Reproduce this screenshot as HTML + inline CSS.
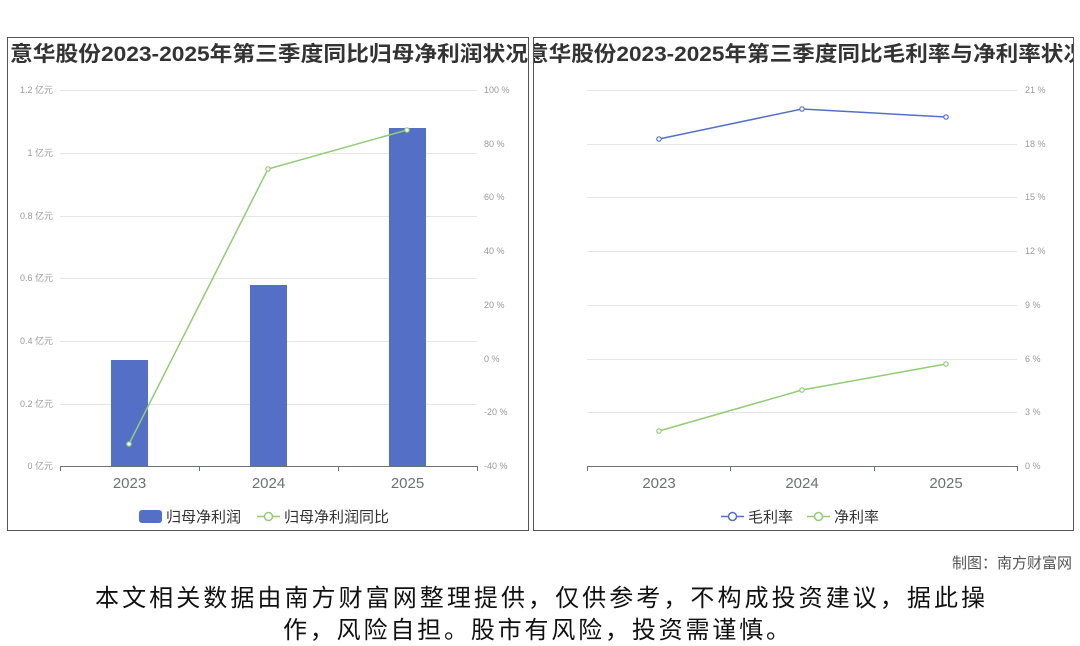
<!DOCTYPE html>
<html><head><meta charset="utf-8"><style>
html,body{margin:0;padding:0;background:#fff;}
svg{display:block;font-family:"Liberation Sans","Noto Sans CJK SC",sans-serif;}
</style></head><body>
<svg width="1080" height="646" viewBox="0 0 1080 646" xmlns="http://www.w3.org/2000/svg">
<rect width="1080" height="646" fill="#fff"/>
<rect x="7.5" y="37.5" width="521" height="493" fill="#fff" stroke="#555" stroke-width="1"/>
<rect x="533.5" y="37.5" width="540" height="493" fill="#fff" stroke="#555" stroke-width="1"/>
<defs>
<clipPath id="cl"><rect x="8" y="38" width="520" height="492"/></clipPath>
<clipPath id="cr"><rect x="534" y="38" width="539" height="492"/></clipPath>
</defs>
<g clip-path="url(#cl)"><text x="10" y="61" font-size="21" font-weight="bold" fill="#333" textLength="518" lengthAdjust="spacingAndGlyphs">意华股份2023-2025年第三季度同比归母净利润状况</text></g>
<g clip-path="url(#cr)"><text x="526" y="61" font-size="21" font-weight="bold" fill="#333" textLength="560" lengthAdjust="spacingAndGlyphs">意华股份2023-2025年第三季度同比毛利率与净利率状况</text></g>

<g stroke="#e6e6e6" stroke-width="1">
<line x1="60" x2="477" y1="90.5" y2="90.5"/><line x1="60" x2="477" y1="153.5" y2="153.5"/>
<line x1="60" x2="477" y1="216.5" y2="216.5"/><line x1="60" x2="477" y1="278.5" y2="278.5"/>
<line x1="60" x2="477" y1="341.5" y2="341.5"/><line x1="60" x2="477" y1="404.5" y2="404.5"/>
</g>
<g font-size="9" fill="#999" text-anchor="end">
<text x="53" y="93">1.2 亿元</text><text x="53" y="156">1 亿元</text><text x="53" y="219">0.8 亿元</text>
<text x="53" y="281">0.6 亿元</text><text x="53" y="344">0.4 亿元</text><text x="53" y="407">0.2 亿元</text><text x="53" y="469">0 亿元</text>
</g>
<g font-size="9" fill="#999">
<text x="484" y="93">100 %</text><text x="484" y="147">80 %</text><text x="484" y="200">60 %</text><text x="484" y="254">40 %</text>
<text x="484" y="308">20 %</text><text x="484" y="362">0 %</text><text x="484" y="415">-20 %</text><text x="484" y="469">-40 %</text>
</g>
<g fill="#5470c6">
<rect x="111" y="360" width="37" height="106"/>
<rect x="250" y="285" width="37" height="181"/>
<rect x="389" y="128" width="37" height="338"/>
</g>
<line x1="60" x2="477" y1="466.5" y2="466.5" stroke="#6e7079"/>
<g stroke="#6e7079"><line x1="60.5" x2="60.5" y1="466" y2="471"/><line x1="199.5" x2="199.5" y1="466" y2="471"/><line x1="338.5" x2="338.5" y1="466" y2="471"/><line x1="477.5" x2="477.5" y1="466" y2="471"/></g>
<polyline points="129,444 268,169 407,130" fill="none" stroke="#91cc75" stroke-width="1.5"/>
<g fill="#fff" stroke="#91cc75" stroke-width="1.2"><circle cx="129" cy="444" r="2.2"/><circle cx="268" cy="169" r="2.2"/><circle cx="407" cy="130" r="2.2"/></g>
<g font-size="15" fill="#6e7079" text-anchor="middle">
<text x="129.5" y="488">2023</text><text x="268.5" y="488">2024</text><text x="407.5" y="488">2025</text>
</g>
<rect x="139" y="510" width="23" height="13" rx="3" fill="#5470c6"/>
<text x="166" y="522" font-size="15" fill="#333">归母净利润</text>
<line x1="257" x2="280" y1="516.5" y2="516.5" stroke="#91cc75" stroke-width="1.5"/>
<circle cx="268.5" cy="516.5" r="4" fill="#fff" stroke="#91cc75" stroke-width="1.5"/>
<text x="284" y="522" font-size="15" fill="#333">归母净利润同比</text>

<g stroke="#e6e6e6" stroke-width="1">
<line x1="587" x2="1017" y1="90.5" y2="90.5"/><line x1="587" x2="1017" y1="144.5" y2="144.5"/>
<line x1="587" x2="1017" y1="197.5" y2="197.5"/><line x1="587" x2="1017" y1="251.5" y2="251.5"/>
<line x1="587" x2="1017" y1="305.5" y2="305.5"/><line x1="587" x2="1017" y1="359.5" y2="359.5"/>
<line x1="587" x2="1017" y1="412.5" y2="412.5"/>
</g>
<g font-size="9" fill="#999">
<text x="1025" y="93">21 %</text><text x="1025" y="147">18 %</text><text x="1025" y="200">15 %</text><text x="1025" y="254">12 %</text>
<text x="1025" y="308">9 %</text><text x="1025" y="362">6 %</text><text x="1025" y="415">3 %</text><text x="1025" y="469">0 %</text>
</g>
<line x1="587" x2="1017" y1="466.5" y2="466.5" stroke="#6e7079"/>
<g stroke="#6e7079"><line x1="587.5" x2="587.5" y1="466" y2="471"/><line x1="730.5" x2="730.5" y1="466" y2="471"/><line x1="874.5" x2="874.5" y1="466" y2="471"/><line x1="1017.5" x2="1017.5" y1="466" y2="471"/></g>
<polyline points="659,139 802,109 946,117" fill="none" stroke="#5470c6" stroke-width="1.5"/>
<g fill="#fff" stroke="#5470c6" stroke-width="1.2"><circle cx="659" cy="139" r="2.2"/><circle cx="802" cy="109" r="2.2"/><circle cx="946" cy="117" r="2.2"/></g>
<polyline points="659,431 802,390 946,364" fill="none" stroke="#91cc75" stroke-width="1.5"/>
<g fill="#fff" stroke="#91cc75" stroke-width="1.2"><circle cx="659" cy="431" r="2.2"/><circle cx="802" cy="390" r="2.2"/><circle cx="946" cy="364" r="2.2"/></g>
<g font-size="15" fill="#6e7079" text-anchor="middle">
<text x="659" y="488">2023</text><text x="802" y="488">2024</text><text x="946" y="488">2025</text>
</g>
<line x1="721" x2="744" y1="516.5" y2="516.5" stroke="#5470c6" stroke-width="1.5"/>
<circle cx="732.5" cy="516.5" r="4" fill="#fff" stroke="#5470c6" stroke-width="1.5"/>
<text x="748" y="522" font-size="15" fill="#333">毛利率</text>
<line x1="807" x2="830" y1="516.5" y2="516.5" stroke="#91cc75" stroke-width="1.5"/>
<circle cx="818.5" cy="516.5" r="4" fill="#fff" stroke="#91cc75" stroke-width="1.5"/>
<text x="834" y="522" font-size="15" fill="#333">净利率</text>

<text x="1072" y="568" font-size="15" fill="#555" text-anchor="end">制图：南方财富网</text>
<text x="95" y="606" font-size="24" fill="#111" textLength="890" lengthAdjust="spacing">本文相关数据由南方财富网整理提供，仅供参考，不构成投资建议，据此操</text>
<text x="283" y="638" font-size="24" fill="#111" textLength="507" lengthAdjust="spacing">作，风险自担。股市有风险，投资需谨慎。</text>
</svg>
</body></html>
